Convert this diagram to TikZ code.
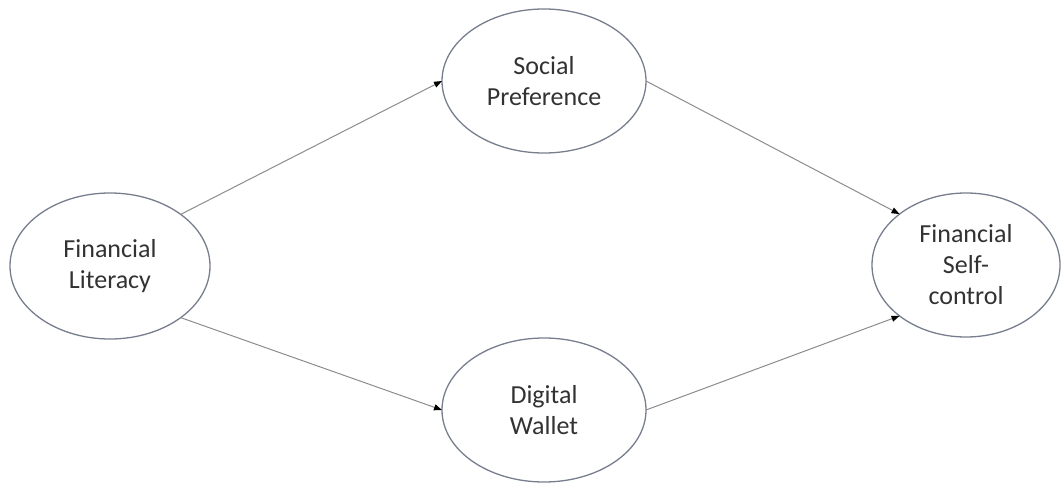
\documentclass[tikz,border=0pt]{standalone}
\usepackage{fontspec}
\setmainfont{Carlito}
\usetikzlibrary{shapes.geometric,arrows.meta}
\definecolor{rimgray}{RGB}{118,126,142}
\definecolor{linkgray}{RGB}{140,140,140}
\definecolor{labelgray}{RGB}{50,50,50}
\begin{document}
\begin{tikzpicture}[x=1pt,y=-1pt,
  construct/.style={ellipse, draw=rimgray, line width=1.3pt, inner sep=0pt,
    outer sep=0pt, align=center, text=labelgray,
    font=\fontsize{26}{31}\selectfont},
  link/.style={draw=linkgray, line width=1pt,
    -{Triangle[length=8pt,width=6pt,color=black]}}]
\useasboundingbox (0,0) rectangle (1062,484);
% constructs
\node[construct, minimum width=200pt, minimum height=146pt] (lit) at (110,266) {Financial\\Literacy};
\node[construct, minimum width=204pt, minimum height=144pt] (soc) at (544,81) {Social\\Preference};
\node[construct, minimum width=204pt, minimum height=144pt] (wal) at (544,410) {Digital\\Wallet};
\node[construct, minimum width=188pt, minimum height=144pt] (ctl) at (966,265) {Financial\\Self-\\control};
% paths
\draw[link] (lit.north east) -- (soc.west);
\draw[link] (lit.south east) -- (wal.west);
\draw[link] (soc.east) -- (ctl.north west);
\draw[link] (wal.east) -- (ctl.south west);
\end{tikzpicture}
\end{document}
